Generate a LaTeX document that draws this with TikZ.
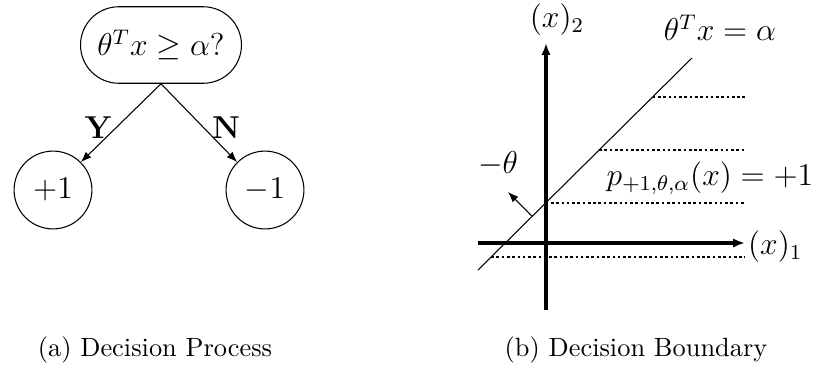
\documentclass[tikz,border=0pt]{standalone}
\usepackage{amsmath}
\usetikzlibrary{positioning, arrows.meta, shapes.misc}

\begin{document}
\begin{tikzpicture}[x=0.379pt, y=-0.379pt,
    decision/.style={draw, rounded rectangle, minimum width=61pt, minimum height=29pt, inner sep=0pt, font=\large},
    leaf/.style={draw, circle, minimum size=29.5pt, inner sep=0pt, font=\large},
    branch/.style={-{Latex[length=4pt,width=3pt]}, line width=0.4pt},
    axis/.style={-{Latex[length=4.5pt,width=3.5pt]}, line width=1.2pt},
    level/.style={densely dotted, line width=1pt},
    mathlabel/.style={font=\large, inner sep=1pt}]
      \useasboundingbox (0,0) rectangle (820,369);

      % --- Decision Process ---
      % Test node on top, the two outcomes below it.
      \node[decision] (test) at (161,45) {$\theta^T x \geq \alpha?$};
      \node[leaf] (pos) at (53,190) {$+1$};
      \node[leaf] (neg) at (265,190) {$-1$};

      \draw[branch] (test.south) -- (pos.45);
      \draw[branch] (test.south) -- (neg.135);

      \node[font=\large\bfseries] (yes) at (98,128) {Y};
      \node[font=\large\bfseries] (no)  at (226,128) {N};

      % --- Decision Boundary ---
      % Level lines first, so the axes are drawn on top of them.
      \coordinate (bl) at (478,270);
      \coordinate (br) at (692,58);
      \foreach \y in {97,150,203,257}
          \draw[level] ({478+(270-\y)*1.01},\y) -- (745,\y);

      \coordinate (xstart) at (478,243);
      \coordinate (xend)   at (745,243);
      \coordinate (ystart) at (546,310);
      \coordinate (yend)   at (546,43);
      \draw[axis] (xstart) -- (xend);
      \draw[axis] (ystart) -- (yend);
      \draw[line width=0.4pt] (bl) -- (br);

      % Normal vector
      \coordinate (nfoot) at (532,216);
      \coordinate (ntip)  at (508,192);
      \draw[branch] (nfoot) -- (ntip);

      % --- Text Labels ---
      \node[mathlabel, anchor=west] (xone) at (745,247) {$(x)_1$};
      \node[mathlabel] (xtwo)  at (557,20)  {$(x)_2$};
      \node[mathlabel] (bound) at (720,28)  {$\theta^T x = \alpha$};
      \node[mathlabel] (prob)  at (710,178) {$p_{+1,\theta,\alpha}(x) = +1$};
      \node[mathlabel] (mtheta) at (498,164) {$-\theta$};

      % Captions
      \node (capa) at (155,350) {(a) Decision Process};
      \node (capb) at (636,350) {(b) Decision Boundary};
  \end{tikzpicture}
\end{document}
